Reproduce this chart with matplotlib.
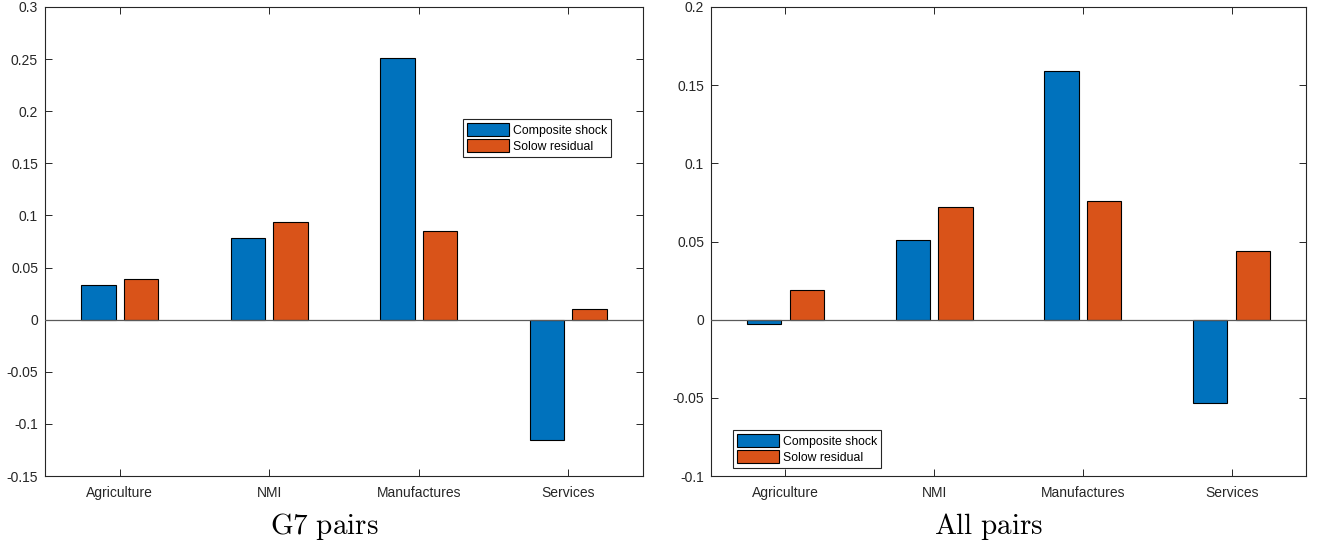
import numpy as np
import matplotlib.pyplot as plt

plt.rcParams['font.family'] = ['Liberation Sans', 'DejaVu Sans']
plt.rcParams['mathtext.fontset'] = 'cm'

sectors = ['Agriculture', 'NMI', 'Manufactures', 'Services']
series_names = ['Composite shock', 'Solow residual']

# G7 pairs
g7_composite = [0.033, 0.078, 0.251, -0.115]
g7_solow = [0.039, 0.094, 0.085, 0.010]

# all pairs
all_composite = [-0.003, 0.051, 0.159, -0.053]
all_solow = [0.019, 0.072, 0.076, 0.044]

panel_titles = ['G7 pairs', 'All pairs']
ylims = [(-0.15, 0.3), (-0.1, 0.2)]
yticks = [np.arange(-0.15, 0.3001, 0.05), np.arange(-0.1, 0.2001, 0.05)]

blue = '#0072BD'
orange = '#D95319'


def fmt(v):
    s = '%g' % round(v, 2)
    return '0' if s in ('-0', '0') else s


fig = plt.figure(figsize=(13.2, 5.45), dpi=100)
ax1 = fig.add_axes([45 / 1320, 1 - 476 / 545, 598 / 1320, 469 / 545])
ax2 = fig.add_axes([711 / 1320, 1 - 476 / 545, 595 / 1320, 469 / 545])

panels = [(ax1, g7_composite, g7_solow), (ax2, all_composite, all_solow)]
title_x = [324 / 1320, 989 / 1320]
x = np.arange(1, len(sectors) + 1)
w = 0.23
off = 0.143

for i, (ax, comp, solow) in enumerate(panels):
    ax.bar(x - off, comp, w, color=blue, edgecolor='black', linewidth=0.8,
           label=series_names[0], zorder=2)
    ax.bar(x + off, solow, w, color=orange, edgecolor='black', linewidth=0.8,
           label=series_names[1], zorder=2)
    ax.axhline(0, color='#5a5a5a', lw=0.9, zorder=3)
    ax.set_xlim(0.5, 4.5)
    ax.set_ylim(*ylims[i])
    ax.set_xticks(x)
    ax.set_xticklabels(sectors)
    ax.set_yticks(yticks[i])
    ax.set_yticklabels([fmt(v) for v in yticks[i]])
    ax.tick_params(direction='in', top=True, right=True, length=5,
                   width=0.7, color='#262626', labelsize=10,
                   labelcolor='#262626', pad=7)
    ax.tick_params(axis='y', pad=5)
    for sp in ax.spines.values():
        sp.set_linewidth(0.8)
        sp.set_color('#262626')
    # panel caption under the axes, LaTeX-style serif
    fig.text(title_x[i], 1 - 526 / 545,
             r'$\mathrm{%s}$' % panel_titles[i].replace(' ', r'\ '),
             ha='center', va='center', fontsize=21)

leg_kw = dict(fontsize=8.8, handlelength=3.4, handleheight=1.25,
              handletextpad=0.3, borderpad=0.35, labelspacing=0.2,
              fancybox=False, framealpha=1, borderaxespad=0)
leg1 = ax1.legend(loc='upper left', bbox_to_anchor=(0.699, 0.761), **leg_kw)
leg2 = ax2.legend(loc='lower left', bbox_to_anchor=(0.037, 0.017), **leg_kw)
for leg in (leg1, leg2):
    leg.get_frame().set_edgecolor('#262626')
    leg.get_frame().set_linewidth(0.8)

fig.savefig('out.png', dpi=100)
